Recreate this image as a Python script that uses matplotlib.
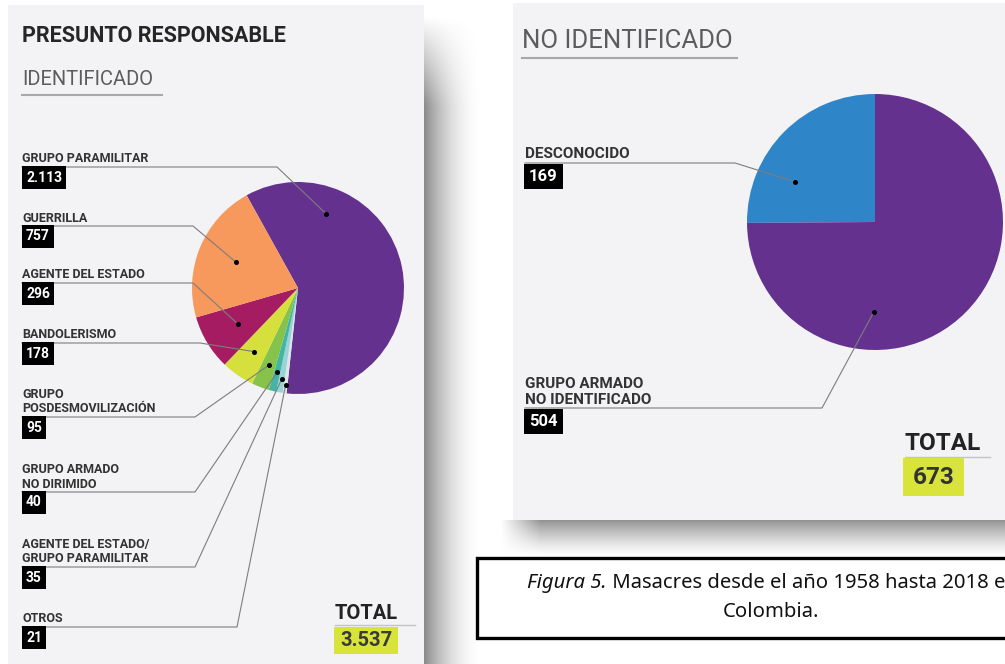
import numpy as np
import matplotlib.pyplot as plt
from matplotlib.patches import Rectangle

plt.rcParams['font.family'] = ['Roboto', 'DejaVu Sans']

W, H = 1005, 664

# panel izquierdo: presunto responsable identificado
ident_labels = ['GRUPO PARAMILITAR', 'GUERRILLA', 'AGENTE DEL ESTADO', 'BANDOLERISMO',
                'GRUPO\nPOSDESMOVILIZACIÓN', 'GRUPO ARMADO\nNO DIRIMIDO',
                'AGENTE DEL ESTADO/\nGRUPO PARAMILITAR', 'OTROS']
ident_values = [2113, 757, 296, 178, 95, 40, 35, 21]
ident_colors = ['#65318e', '#f7985c', '#a51c62', '#d5e03c',
                '#86c34b', '#44b4a6', '#98d3d6', '#e2e5e8']
ident_total = '3.537'

# panel derecho: no identificado
noid_labels = ['DESCONOCIDO', 'GRUPO ARMADO\nNO IDENTIFICADO']
noid_values = [169, 504]
noid_colors = ['#2e86c8', '#65318e']
noid_total = '673'

caption_italic = 'Figura 5.'
caption_rest = ' Masacres desde el año 1958 hasta 2018 en'
caption_line2 = 'Colombia.'


def Y(y):
    # coordenadas de imagen (desde arriba) -> ejes
    return H - y


def miles(v):
    return f'{v:,}'.replace(',', '.')


def dot_at(w, frac, rad):
    ang = np.radians(w.theta1 + frac * (w.theta2 - w.theta1))
    return (w.center[0] + rad * w.r * np.cos(ang),
            w.center[1] + rad * w.r * np.sin(ang))


def leader(ax, x0, yl, xb, dot, label, value, fs_lab, fs_num, box_c):
    ax.plot([x0, xb, dot[0]], [Y(yl), Y(yl), dot[1]], color='#7d7d7d', lw=0.8, zorder=3)
    ax.plot(dot[0], dot[1], 'o', color='black', ms=2.6, zorder=4)
    ax.text(x0, Y(yl - 1.5), label, ha='left', va='bottom', fontsize=fs_lab,
            fontweight='bold', color='#333333', linespacing=1.15, zorder=5)
    ax.text(x0 + 4, Y(box_c), value, ha='left', va='center', fontsize=fs_num,
            fontweight='bold', color='white', zorder=5,
            bbox=dict(boxstyle='square,pad=0.3', facecolor='black', edgecolor='none'))


def shadow(ax, x0, x1, y0, y1, alpha):
    rgba = np.zeros(alpha.shape + (4,))
    rgba[..., :3] = 0.35
    rgba[..., 3] = alpha
    ax.imshow(rgba, extent=(x0, x1, Y(y1), Y(y0)), origin='upper',
              interpolation='bilinear', aspect='auto', zorder=0.5)


fig = plt.figure(figsize=(W / 100, H / 100), dpi=100)
fig.patch.set_facecolor('white')
ax = fig.add_axes([0, 0, 1, 1])

# tarjetas
ax.add_patch(Rectangle((8, Y(680)), 416, 675, facecolor='#f3f3f5', edgecolor='none', zorder=1))
ax.add_patch(Rectangle((513, Y(520)), 500, 517, facecolor='#f3f3f5', edgecolor='none', zorder=1))

# sombras
t = np.linspace(0, 1, 60)
rows = np.linspace(15, 664, 200)
side = 0.7 * (1 - t)[None, :] ** 2 * np.clip((rows - 15) / 90, 0, 1)[:, None]
shadow(ax, 424, 484, 15, 664, side)
tb = np.linspace(0, 1, 40)
xs = np.linspace(500, 1005, 300)
bottom = 0.65 * (1 - tb)[:, None] ** 1.4 * np.clip((xs - 500) / 40, 0, 1)[None, :]
shadow(ax, 500, 1005, 520, 558, bottom)

# títulos
ax.text(22, Y(42), 'PRESUNTO RESPONSABLE', fontsize=15.5, fontweight='bold',
        color='#262626', va='baseline', zorder=5)
ax.text(22, Y(85), 'IDENTIFICADO', fontsize=14.5, fontweight='normal',
        color='#5c5c5c', va='baseline', zorder=5)
ax.plot([22, 162], [Y(95), Y(95)], color='#a8a8a8', lw=1.5, zorder=3)
ax.text(522, Y(48), 'NO IDENTIFICADO', fontsize=18.5, fontweight='normal',
        color='#5c5c5c', va='baseline', zorder=5)
ax.plot([522, 737], [Y(58), Y(58)], color='#a8a8a8', lw=1.5, zorder=3)

# pastel izquierdo
order = [0, 7, 6, 5, 4, 3, 2, 1]
wedges, _ = ax.pie([ident_values[i] for i in order], colors=[ident_colors[i] for i in order],
                   startangle=119, counterclock=False, center=(298, Y(288)), radius=106,
                   wedgeprops=dict(linewidth=0, zorder=2))
wedge_of = {order[k]: wedges[k] for k in range(len(order))}

ident_line_y = [167, 226, 283, 343, 417, 492, 567, 627]
ident_bend_x = [277, 193, 193, 200, 195, 195, 195, 237]
ident_dot_frac = [0.77, 0.5, 0.5, 0.5, 0.5, 0.5, 0.5, 0.5]
ident_dot_rad = [0.75, 0.63, 0.66, 0.73, 0.78, 0.82, 0.87, 0.92]
for i, lab in enumerate(ident_labels):
    d = dot_at(wedge_of[i], ident_dot_frac[i], ident_dot_rad[i])
    leader(ax, 22, ident_line_y[i], ident_bend_x[i], d, lab, miles(ident_values[i]),
           9, 10, ident_line_y[i] + 10.5)

# pastel derecho
wedges2, _ = ax.pie(noid_values, colors=noid_colors, startangle=90, counterclock=True,
                    center=(875, Y(222)), radius=128, wedgeprops=dict(linewidth=0, zorder=2))
noid_line_y = [163, 408]
noid_bend_x = [735, 822]
noid_dot_frac = [0.70, 0.33]
for i, lab in enumerate(noid_labels):
    d = dot_at(wedges2[i], noid_dot_frac[i], 0.70)
    leader(ax, 525, noid_line_y[i], noid_bend_x[i], d, lab, miles(noid_values[i]),
           11, 12, noid_line_y[i] + 13.5)

# totales
ax.text(335, Y(619), 'TOTAL', fontsize=14.5, fontweight='bold', color='#222222',
        va='baseline', zorder=5)
ax.plot([335, 415], [Y(625), Y(625)], color='#c4c4c4', lw=1, zorder=3)
ax.add_patch(Rectangle((334, Y(654)), 64, 27, facecolor='#d8e43a', edgecolor='none', zorder=3))
ax.text(366, Y(640.5), ident_total, fontsize=14.5, fontweight='bold', color='#3a3a3a',
        ha='center', va='center', zorder=5)

ax.text(905, Y(450), 'TOTAL', fontsize=17.5, fontweight='bold', color='#222222',
        va='baseline', zorder=5)
ax.plot([905, 990], [Y(457), Y(457)], color='#c4c4c4', lw=1, zorder=3)
ax.add_patch(Rectangle((903, Y(496)), 61, 38, facecolor='#d8e43a', edgecolor='none', zorder=3))
ax.text(933.5, Y(477), noid_total, fontsize=17.5, fontweight='bold', color='#333333',
        ha='center', va='center', zorder=5)

# leyenda de la figura
ax.add_patch(Rectangle((477, Y(638)), 545, 80, facecolor='white', edgecolor='black',
                       lw=2.4, zorder=1))
t1 = ax.text(527, Y(588), caption_italic, fontsize=14.6, style='italic', family='Noto Sans',
             color='#111111', va='baseline', zorder=5)
ax.annotate(caption_rest, xy=(1, 0), xycoords=t1, ha='left', va='bottom', fontsize=14.6,
            family='Noto Sans', color='#111111', zorder=5)
ax.text(771, Y(617), caption_line2, fontsize=14.6, family='Noto Sans', color='#111111',
        ha='center', va='baseline', zorder=5)

ax.set_xlim(0, W)
ax.set_ylim(0, H)
ax.axis('off')

fig.savefig('out.png', dpi=100, facecolor='white')
